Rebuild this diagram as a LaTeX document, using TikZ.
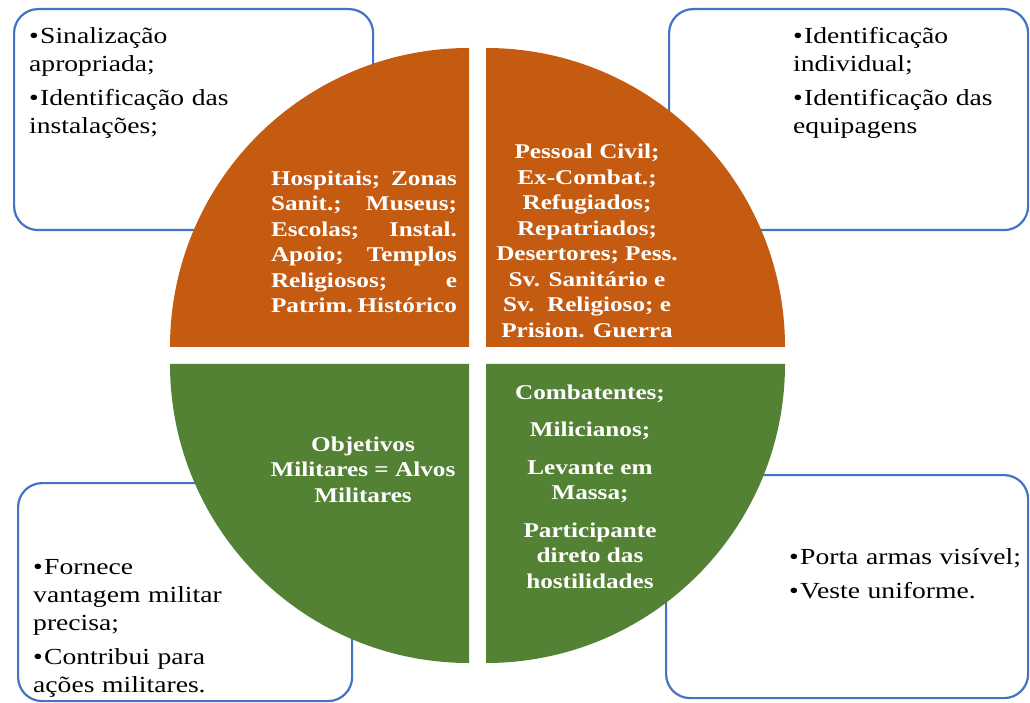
\documentclass[tikz,border=0pt]{standalone}
\usepackage{fontspec}
\setmainfont{Liberation Serif}[FakeStretch=1.2]
\definecolor{boxblue}{HTML}{4472C4}
\definecolor{civorange}{HTML}{C55A11}
\definecolor{milgreen}{HTML}{548235}
\newcommand{\bitem}[1]{\par\hangindent=11pt\hangafter=1\noindent\makebox[11pt][l]{\textbullet}#1\par}
\tikzset{
    x=1pt, y=1pt,
    infobox/.style={draw=boxblue, line width=2.2pt, rounded corners=24pt, fill=white, anchor=north west}, % the four blue frames
    items/.style={anchor=north west, inner sep=0pt, text width=330pt, align=left,
        font=\fontsize{23}{28}\selectfont, execute at begin node=\setlength{\parskip}{6pt}}, % bullets in the frames
    qtext/.style={text=white, inner sep=0pt, font=\bfseries\fontsize{21}{25.5}\selectfont}, % labels on the circle
}

\begin{document}
\begin{tikzpicture}
    \useasboundingbox (0,0) rectangle (1030,702);

    % frames
    \node[infobox, minimum width=359pt, minimum height=221pt] (tlbox) at (13,694) {};
    \node[infobox, minimum width=359pt, minimum height=221pt] (trbox) at (668,694) {};
    \node[infobox, minimum width=334pt, minimum height=218pt] (blbox) at (17,220) {};
    \node[infobox, minimum width=362pt, minimum height=223pt] (brbox) at (665,228) {};

    % the circle, four quarters
    \coordinate (ctr) at (477.5,346.5);
    \fill[civorange] ([shift={(-8.5,8.5)}]ctr) -- ++(0,299) arc[start angle=90, end angle=180, radius=299] -- cycle;
    \fill[civorange] ([shift={(8.5,8.5)}]ctr) -- ++(299,0) arc[start angle=0, end angle=90, radius=299] -- cycle;
    \fill[milgreen] ([shift={(-8.5,-8.5)}]ctr) -- ++(-299,0) arc[start angle=180, end angle=270, radius=299] -- cycle;
    \fill[milgreen] ([shift={(8.5,-8.5)}]ctr) -- ++(0,-299) arc[start angle=270, end angle=360, radius=299] -- cycle;

    \node[qtext, text width=186pt, align=justify] (tlq) at ([shift={(-113.5,113.5)}]ctr)
        {Hospitais;~Zonas\linebreak Sanit.;~Museus;\linebreak Escolas;~Instal.\linebreak
         Apoio;~Templos\linebreak Religiosos;~e\linebreak Patrim.~Histórico};
    \node[qtext, align=center] (trq) at ([shift={(109.5,114.5)}]ctr)
        {Pessoal Civil;\\Ex-Combat.;\\Refugiados;\\Repatriados;\\Desertores; Pess.\\
         Sv. Sanitário e\\Sv.~~Religioso; e\\Prision. Guerra};
    \node[qtext, align=center] (blq) at ([shift={(-114.5,-114)}]ctr)
        {Objetivos\\Militares = Alvos\\Militares};
    \node[qtext, align=center] (brq) at ([shift={(112.5,-131)}]ctr)
        {Combatentes;\\[12pt]Milicianos;\\[12pt]Levante em\\Massa;\\[12pt]Participante\\direto das\\hostilidades};

    % bullet texts
    \node[items] (tlitems) at ([shift={(16,-1)}]tlbox.north west)
        {\bitem{Sinalização\\apropriada;}\bitem{Identificação das\\instalações;}};
    \node[items] (tritems) at ([shift={(125,-1)}]trbox.north west)
        {\bitem{Identificação\\individual;}\bitem{Identificação das\\equipagens}};
    \node[items] (blitems) at ([shift={(16,-58)}]blbox.north west)
        {\bitem{Fornece\\vantagem militar\\precisa;}\bitem{Contribui para\\ações militares.}};
    \node[items] (britems) at ([shift={(124,-56)}]brbox.north west)
        {\bitem{Porta armas visível;}\bitem{Veste uniforme.}};
\end{tikzpicture}
\end{document}
